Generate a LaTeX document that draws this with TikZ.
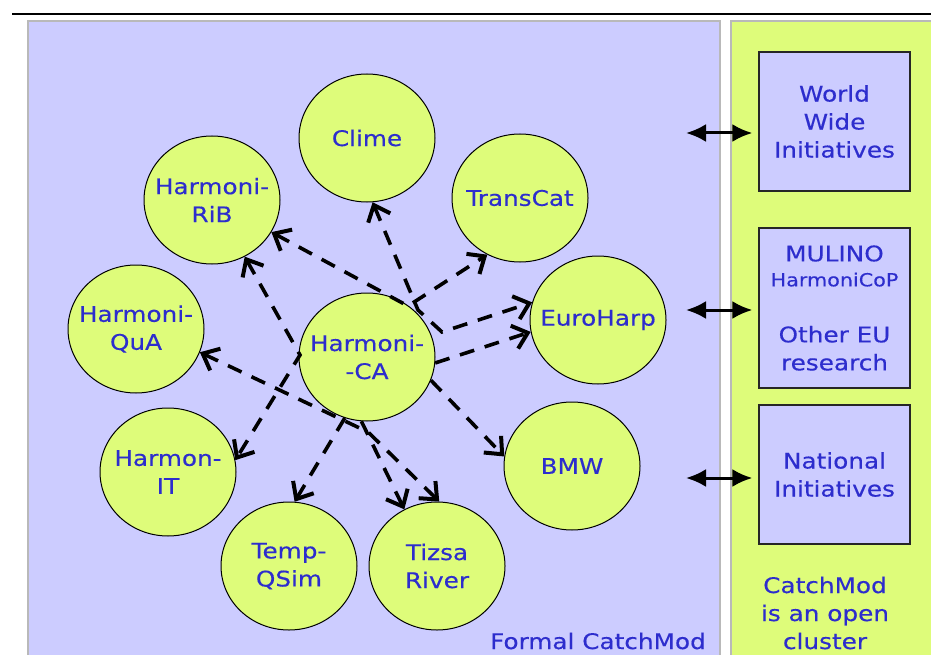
\documentclass[tikz,border=0pt]{standalone}
\usepackage{fontspec}
\setmainfont[FakeStretch=1.15,FakeBold=0.35]{DejaVu Sans}
\usetikzlibrary{shapes.geometric,arrows.meta}
\definecolor{lav}{RGB}{204,204,255}
\definecolor{limef}{RGB}{222,252,122}
\definecolor{tblue}{RGB}{45,45,205}
\definecolor{pgray}{RGB}{185,185,185}
\tikzset{
  vtip/.tip={Straight Barb[length=14pt,width=24pt,line width=4pt]},
  htip/.tip={Latex[length=20pt,width=18pt]},
  circ/.style={ellipse, draw=black, line width=1pt, fill=limef,
    minimum width=136pt, minimum height=128pt, inner sep=0pt},
  ctext/.style={text=tblue, align=center, inner sep=0pt,
    font=\fontsize{21.5}{28}\selectfont},
  rbox/.style={draw=black!85, line width=1.3pt, fill=lav,
    minimum width=151pt, minimum height=139pt, align=center, text=tblue,
    font=\fontsize{21.5}{28}\selectfont},
  dar/.style={line width=3.6pt, dash pattern=on 15pt off 11pt, black},
  biarrow/.style={line width=3pt, black, htip-htip, shorten >=6pt},
}
\begin{document}
\begin{tikzpicture}[x=1pt,y=-1pt]
\useasboundingbox (0,0) rectangle (931,655);
\begin{scope}
\clip (0,0) rectangle (931,655);
\fill[white] (0,0) rectangle (931,655);
\draw[line width=2pt] (12,14) -- (931,14);
\draw[pgray, line width=2pt, fill=lav] (28,21) rectangle (720,670);
\draw[pgray, line width=2pt, fill=limef] (731,21) rectangle (945,670);
\end{scope}

% right boxes
\node[rbox] (ww) at (834.5,121.5) {World\\Wide\\Initiatives};
\node[rbox, minimum height=160pt] (eu) at (834.5,308)
  {MULINO\\[-3pt]{\fontsize{18}{28}\selectfont HarmoniCoP}\\[28pt]Other EU\\research};
\node[rbox] (nat) at (834.5,474.5) {National\\Initiatives};

\coordinate (l1) at (686,133);
\coordinate (l2) at (686,310);
\coordinate (l3) at (686,478);
\draw[biarrow] (l1) -- (l1 -| ww.west);
\draw[biarrow] (l2) -- (l2 -| eu.west);
\draw[biarrow] (l3) -- (l3 -| nat.west);

\node[ctext, anchor=east] (formal) at (706,641) {Formal CatchMod};
\node[ctext] (open) at (825,613) {CatchMod\\is an open\\cluster};

% circles
\node[circ] (clime) at (367,138) {};
\node[circ] (rib) at (212,200) {};
\node[circ] (transcat) at (520,198) {};
\node[circ] (qua) at (136,329) {};
\node[circ] (ca) at (367,357) {};
\node[circ] (euroharp) at (598,320) {};
\node[circ] (it) at (168,472) {};
\node[circ] (bmw) at (572,466) {};
\node[circ] (tempqsim) at (289,566) {};
\node[circ] (tizsa) at (437,566) {};

\node[ctext] (clime-t) at (clime) {Clime};
\node[ctext] (rib-t) at (rib) {Harmoni-\\RiB};
\node[ctext] (transcat-t) at (transcat) {TransCat};
\node[ctext] (qua-t) at (qua) {Harmoni-\\QuA};
\node[ctext] (ca-t) at (ca) {Harmoni-\\-CA};
\node[ctext] (euroharp-t) at (euroharp) {EuroHarp};
\node[ctext] (it-t) at (it) {Harmon-\\IT};
\node[ctext] (bmw-t) at (bmw) {BMW};
\node[ctext] (tempqsim-t) at (tempqsim) {Temp-\\QSim};
\node[ctext] (tizsa-t) at (tizsa) {Tizsa\\River};

% connectors
\coordinate (b1) at (408,306);
\coordinate (b2) at (418,310);
\coordinate (b3) at (442,332);
\coordinate (b5) at (300,355);
\coordinate (b6) at (368,432);

\draw[dar, vtip-vtip] (rib) -- (b1) -- (transcat.-120);
\draw[dar, vtip-vtip] (clime.-85) -- (b2) -- (b3) -- (euroharp.165);
\draw[dar, -vtip] (ca.-5) -- (euroharp.190);
\draw[dar, -vtip] (ca.-20) -- (bmw.172);
\draw[dar, vtip-vtip] (rib.-60) -- (b5) -- (it.10);
\draw[dar, vtip-vtip] (qua.-20) -- (b6) -- (tizsa.88);
\draw[dar, -vtip] (ca.-95) -- (tizsa.120);
\draw[dar, -vtip] (ca.-110) -- (tempqsim.85);
\end{tikzpicture}
\end{document}
